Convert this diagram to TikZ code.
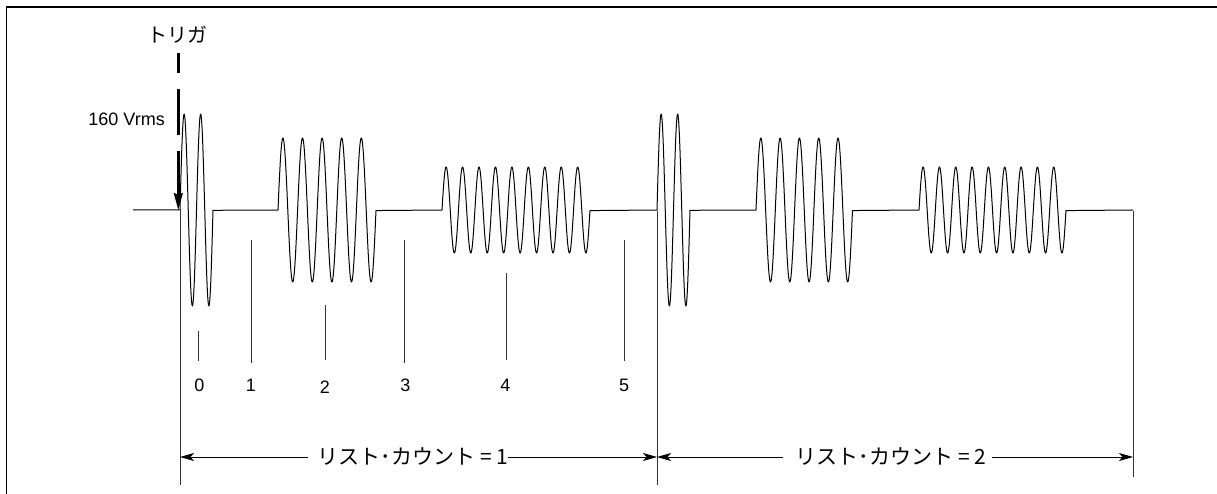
\documentclass[tikz,border=0pt]{standalone}
\usepackage{fontspec}
\setmainfont{Liberation Sans}
\newfontfamily\jp{Noto Sans CJK JP}
\usetikzlibrary{arrows.meta}
\begin{document}
\begin{tikzpicture}[x=1pt,y=-1pt,
  wave/.style={line width=1pt, black, line join=round},
  tickline/.style={line width=0.9pt, black!80},
  spanline/.style={line width=0.9pt, black!80},
  dimarrow/.style={line width=0.9pt, black, -{Stealth[length=14pt,width=8pt,inset=3.5pt]}},
  trigline/.style={line width=2.4pt, black},
  lbl/.style={font=\fontsize{18}{21}\selectfont, inner sep=0pt},
  jlbl/.style={font=\jp\fontsize{20}{24}\selectfont, inner sep=0pt},
  jcount/.style={font=\jp\fontsize{21}{24}\selectfont, inner sep=0pt}]
\useasboundingbox (0,0) rectangle (1217,494);
% frame
\draw[line width=1.3pt] (6.5,494) -- (6.5,7) -- (1217,7);
% waveform
\draw[wave] (133,210) -- (180,210)
 -- plot[domain=0:2,samples=81] ({180+16.5*\x},{210-96*sin(360*\x)})
 -- (278,210)
 -- plot[domain=0:5,samples=201] ({278+19.6*\x},{210-72*sin(360*\x)})
 -- (442,210)
 -- plot[domain=0:9,samples=361] ({442+16.444*\x},{210-43*sin(360*\x)})
 -- (657,210)
 -- plot[domain=0:2,samples=81] ({657+16.5*\x},{210-96*sin(360*\x)})
 -- (756,210)
 -- plot[domain=0:5,samples=201] ({756+19.3*\x},{210-72*sin(360*\x)})
 -- (919,210)
 -- plot[domain=0:9,samples=361] ({919+16.333*\x},{210-43*sin(360*\x)})
 -- (1133,210);
% list count boundaries
\coordinate (b0t) at (180,210);  \coordinate (b0b) at (180,485);
\coordinate (b1t) at (657,211);  \coordinate (b1b) at (657,485);
\coordinate (b2t) at (1133,211); \coordinate (b2b) at (1133,477);
\draw[spanline] (b0t) -- (b0b);
\draw[spanline] (b1t) -- (b1b);
\draw[spanline] (b2t) -- (b2b);
% list count labels and arrows
\node[jcount] (c1) at (413,457) {リスト･カウント = 1};
\node[jcount] (c2) at (891,457) {リスト･カウント = 2};
\coordinate (a0) at (180,457);
\coordinate (a1) at (657,457);
\coordinate (a2) at (1133,457);
\draw[dimarrow] ([xshift=-10pt]c1.west) -- (a0);
\draw[dimarrow] (c1.east) -- (a1);
\draw[dimarrow] ([xshift=-13pt]c2.west) -- (a1);
\draw[dimarrow] ([xshift=6pt]c2.east) -- (a2);
% segment ticks
\draw[tickline] (198.2,331.4) -- (198.2,361.4);
\draw[tickline] (251.8,240.5) -- (251.8,363);
\draw[tickline] (325,305.4) -- (325,360);
\draw[tickline] (404.8,240) -- (404.8,363);
\draw[tickline] (506.2,273) -- (506.2,360);
\draw[tickline] (624,240) -- (624,361);
\node[lbl] (t0) at (199.3,385) {0};
\node[lbl] (t1) at (251,385) {1};
\node[lbl] (t2) at (325,387.5) {2};
\node[lbl] (t3) at (405.4,385) {3};
\node[lbl] (t4) at (505.4,385) {4};
\node[lbl] (t5) at (624,385) {5};
% trigger
\node[jlbl] (trig) at (177.7,35) {トリガ};
\coordinate (tr1) at (178.3,53);  \coordinate (tr2) at (178.3,73);
\coordinate (tr3) at (178.3,89);  \coordinate (tr4) at (178.3,135);
\coordinate (tr5) at (178.3,151); \coordinate (tr6) at (178.3,210);
\draw[trigline] (tr1) -- (tr2);
\draw[trigline] (tr3) -- (tr4);
\draw[trigline,-{Stealth[length=17pt,width=9pt,inset=2pt]}] (tr5) -- (tr6);
\node[lbl,anchor=east] (vr) at (165,119.3) {160 Vrms};
\end{tikzpicture}
\end{document}
